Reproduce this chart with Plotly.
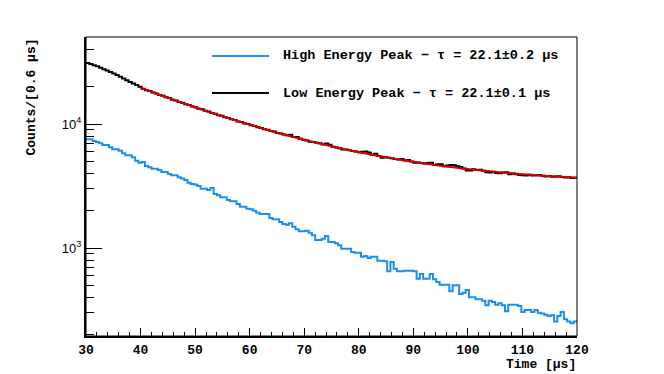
import numpy as np
import plotly.graph_objects as go

# ---------------- data ----------------
T_MIN, T_MAX, BIN_WIDTH = 30.0, 120.0, 0.6

HIGH_ENERGY = [
    7525, 7525, 7294, 7160, 6989, 6772, 6772, 6489, 6252, 6252,
    6092, 5801, 5590, 5590, 5386, 5058, 4873, 4937, 4584, 4475,
    4360, 4360, 4256, 4101, 4101, 3951, 3857, 3857, 3717, 3635,
    3535, 3362, 3282, 3252, 3162, 3008, 3008, 2936, 3047, 2726,
    2661, 2564, 2564, 2439, 2381, 2381, 2264, 2153, 2153, 2075,
    2052, 1999, 1926, 1880, 1880, 1880, 1745, 1704, 1704, 1621,
    1562, 1541, 1582, 1485, 1415, 1364, 1364, 1379, 1329, 1266,
    1160, 1160, 1189, 1250, 1118, 1118, 1091, 1051, 987, 987,
    987, 928, 916, 916, 851, 862, 830, 851, 851, 790,
    790, 781, 649, 771, 681, 649, 649, 656, 656, 656,
    649, 565, 617, 565, 565, 617, 559, 532, 506, 506,
    506, 448, 500, 500, 426, 436, 458, 400, 400, 386,
    386, 376, 345, 376, 367, 349, 358, 345, 309, 349,
    349, 349, 341, 305, 316, 316, 305, 316, 301, 297,
    290, 283, 287, 256, 283, 305, 266, 256, 247, 256,
]

LOW_ENERGY = [
    31100, 30470, 29800, 29200, 28440, 27660, 26950, 26210, 25500, 24800,
    24030, 23280, 22560, 21850, 21210, 20590, 19990, 19250, 18700, 18480,
    17950, 17650, 17150, 16900, 16420, 16180, 15720, 15500, 15050, 14850,
    14430, 14250, 13850, 13660, 13290, 13120, 12760, 12600, 12250, 12110,
    11780, 11640, 11320, 11200, 10900, 10780, 10490, 10380, 10110, 9990,
    9760, 9640, 9420, 9300, 9080, 8990, 8780, 8680, 8470, 8390,
    8210, 8100, 8200, 7839, 7870, 7597, 7480, 7367, 7185, 7149,
    7045, 7010, 6844, 6950, 6790, 6563, 6474, 6388, 6240, 6222,
    6143, 6065, 5990, 5916, 5960, 6005, 5880, 5642, 5745, 5516,
    5345, 5396, 5338, 5282, 5228, 5175, 5225, 5073, 5125, 4977,
    4880, 4886, 4842, 4799, 4855, 4860, 4678, 4735, 4740, 4566,
    4620, 4675, 4640, 4565, 4490, 4369, 4210, 4225, 4320, 4253,
    4270, 4200, 4090, 4065, 4126, 4020, 4000, 4058, 4076, 3935,
    3994, 3935, 3875, 3857, 3840, 3900, 3845, 3866, 3887, 3833,
    3780, 3802, 3750, 3773, 3797, 3745, 3695, 3719, 3670, 3694,
]

FIT_T = [40, 42, 44, 46, 48, 50, 52, 54, 56, 58, 60, 62, 64, 66, 68, 70,
         72, 74, 76, 78, 80, 82, 84, 86, 88, 90, 92, 94, 96, 98, 100,
         102, 104, 106, 108, 110, 112, 114, 116, 118, 120]
FIT_LOW = [19612, 18198, 16905, 15723, 14645, 13660, 12759, 11936, 11185, 10498,
           9872, 9299, 8775, 8297, 7861, 7462, 7098, 6765, 6461, 6183,
           5929, 5698, 5486, 5292, 5116, 4954, 4807, 4672, 4549, 4437,
           4334, 4240, 4155, 4076, 4005, 3939, 3880, 3825, 3775, 3730, 3688]

LEGEND_LABELS = ["High Energy Peak \u2212 \u03c4 = 22.1\u00b10.2 \u03bcs",
                 "Low Energy Peak \u2212 \u03c4 = 22.1\u00b10.1 \u03bcs"]
X_TICKS = [30, 40, 50, 60, 70, 80, 90, 100, 110, 120]
Y_MAJOR = [1000, 10000]
Y_MAJOR_TEXT = ["10<sup>3</sup>", "10<sup>4</sup>"]
Y_MINOR = [200, 300, 400, 500, 600, 700, 800, 900,
           2000, 3000, 4000, 5000, 6000, 7000, 8000, 9000, 20000, 40000]

# ---------------- styling ----------------
BLUE = "#1a8ff0"
RED = "#d40000"
MONO = "Liberation Mono"
OFF = 8                      # page body margin of the html page
W, H = 664 - OFF, 374 - OFF  # figure size so the page fits the window
L, T = 86 - OFF, 37 - OFF    # plot frame starts at window px (86, 37)
PW, PH = 491, 299
R, B = W - L - PW, H - T - PH

edges = T_MIN + BIN_WIDTH * np.arange(len(HIGH_ENERGY) + 1)


def step_y(vals):
    return list(vals) + [vals[-1]]


fig = go.Figure()
fig.add_trace(go.Scatter(x=edges, y=step_y(LOW_ENERGY), mode="lines", line_shape="hv",
                         line=dict(color="black", width=2), name=LEGEND_LABELS[1],
                         showlegend=False))
fig.add_trace(go.Scatter(x=edges, y=step_y(HIGH_ENERGY), mode="lines", line_shape="hv",
                         line=dict(color=BLUE, width=2), name=LEGEND_LABELS[0],
                         showlegend=False))
fig.add_trace(go.Scatter(x=FIT_T, y=FIT_LOW, mode="lines", line_shape="spline",
                         line=dict(color=RED, width=2), name="fit", showlegend=False))


def px(xw):
    """window pixel x -> paper fraction"""
    return (xw - OFF - L) / PW


def py(yw):
    """window pixel y -> paper fraction"""
    return (T + PH - (yw - OFF)) / PH


# thin frame (top / right), axes themselves drawn thicker
fig.add_shape(type="rect", xref="paper", yref="paper", x0=0, x1=1, y0=0, y1=1,
              line=dict(color="black", width=1), layer="above")

# legend drawn as lines + text
legend_rows = [(56, BLUE, LEGEND_LABELS[0]), (93, "black", LEGEND_LABELS[1])]
for yy, col, lab in legend_rows:
    fig.add_shape(type="line", xref="paper", yref="paper",
                  x0=px(212), x1=px(269), y0=py(yy), y1=py(yy),
                  line=dict(color=col, width=2))
    fig.add_annotation(xref="paper", yref="paper", x=px(281), y=py(yy),
                       xanchor="left", yanchor="middle", showarrow=False,
                       text=lab, font=dict(family=MONO, size=13.5, color="black", weight="bold"))

# axis titles
fig.add_annotation(xref="paper", yref="paper", x=px(578), y=py(364),
                   xanchor="right", yanchor="middle", showarrow=False,
                   text="Time [\u03bcs]", font=dict(family=MONO, size=13, color="black", weight="bold"))
fig.add_annotation(xref="paper", yref="paper", x=px(31), y=py(37),
                   xanchor="center", yanchor="top", showarrow=False, textangle=-90,
                   text="Counts/[0.6 \u03bcs]", font=dict(family=MONO, size=13, color="black", weight="bold"))

fig.update_layout(
    width=W, height=H,
    margin=dict(l=L, r=R, t=T, b=B, pad=0),
    paper_bgcolor="white", plot_bgcolor="white",
    showlegend=False,
    xaxis=dict(range=[T_MIN, T_MAX], showgrid=False, zeroline=False,
               showline=True, linecolor="black", linewidth=2, mirror=False,
               ticks="inside", ticklen=8, tickwidth=1, tickcolor="black",
               tickvals=X_TICKS, ticktext=[str(v) for v in X_TICKS],
               tickfont=dict(family=MONO, size=13, color="black", weight="bold"),
               minor=dict(dtick=2, ticks="inside", ticklen=4, tickwidth=1, tickcolor="black")),
    yaxis=dict(type="log", range=[2.2903, 4.7016], showgrid=False, zeroline=False,
               showline=True, linecolor="black", linewidth=2, mirror=False,
               ticks="inside", ticklen=16, tickwidth=1, tickcolor="black",
               tickvals=Y_MAJOR, ticktext=Y_MAJOR_TEXT,
               tickfont=dict(family="Liberation Sans", size=13, color="black"),
               minor=dict(tickvals=Y_MINOR, ticks="inside", ticklen=8, tickwidth=1,
                          tickcolor="black")),
)

fig.write_html("out.html")
